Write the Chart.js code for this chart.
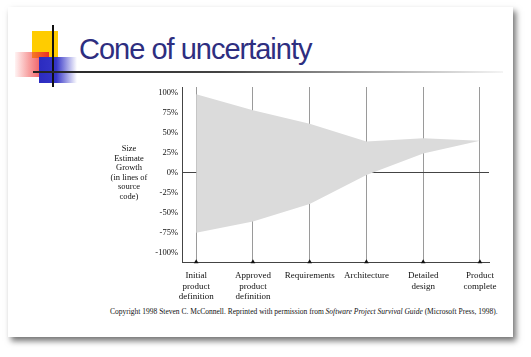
<!DOCTYPE html>
<html>
<head>
<meta charset="utf-8">
<script src="https://cdn.jsdelivr.net/npm/chart.js@4.4.1/dist/chart.umd.min.js"></script>
<style>
  html, body { margin:0; padding:0; background:#ffffff; }
  body { width:531px; height:357px; position:relative; overflow:hidden; font-family:"Liberation Serif", serif; }
  #slide { position:absolute; left:8px; top:7px; width:505px; height:330px; background:#fff;
           box-shadow: 3px 4px 6px rgba(0,0,0,0.55); }
  .sq { position:absolute; }
  #yellow { left:32px; top:31px; width:26px; height:27px; background:#ffcc00; }
  #red { left:15px; top:52px; width:34px; height:25px;
         background: linear-gradient(to left, rgba(235,30,40,0.9), rgba(240,70,70,0.5) 60%, rgba(255,140,140,0.1)); }
  #blue { left:39px; top:57px; width:38px; height:26px;
          background: linear-gradient(to right, #2b2bc0 0%, #3535c8 45%, rgba(60,60,210,0.0) 100%); }
  #vline { left:52px; top:25px; width:1.5px; height:62px; background:#111; }
  #hline { left:33px; top:71px; width:470px; height:1.5px;
           background: linear-gradient(to right, #222 0%, #444 40%, rgba(120,120,120,0.5) 80%, rgba(200,200,200,0.2) 100%); }
  #title { position:absolute; left:79px; top:31px; font-family:"Liberation Sans", Arial, sans-serif; font-size:29px;
           letter-spacing:-1px; color:#2e2e80; white-space:nowrap; line-height:36px; }
  #copy { position:absolute; left:110px; top:307px; font-size:7.5px; color:#111; white-space:nowrap; }
  canvas { position:absolute; left:0; top:0; }
</style>
</head>
<body>
<div id="slide"></div>
<div class="sq" id="yellow"></div>
<div class="sq" id="red"></div>
<div class="sq" id="blue"></div>
<div class="sq" id="vline"></div>
<div class="sq" id="hline"></div>
<div id="title">Cone of uncertainty</div>
<div id="copy">Copyright 1998 Steven C. McConnell. Reprinted with permission from <i>Software Project Survival Guide</i> (Microsoft Press, 1998).</div>
<canvas id="c" width="531" height="357"></canvas>
<script>
// ---- data ----
const categories = [
  ["Initial", "product", "definition"],
  ["Approved", "product", "definition"],
  ["Requirements"],
  ["Architecture"],
  ["Detailed", "design"],
  ["Product", "complete"]
];
const upperBound = [98, 78, 61, 39, 43, 40];
const lowerBound = [-75, -61, -39, -3, 24, 40];
const yTickValues = [100, 75, 50, 25, 0, -25, -50, -75, -100];
const yAxisTitle = ["Size", "Estimate", "Growth", "(in lines of", "source", "code)"];

const Y_MIN = -111.5, Y_MAX = 107;
const X_MIN = -0.25, X_MAX = 5.16;

const yTitlePlugin = {
  id: 'yTitle',
  afterDraw(chart) {
    const ctx = chart.ctx;
    const y0 = chart.scales.y.getPixelForValue(0);
    const x = chart.chartArea.left - 53;
    ctx.save();
    ctx.font = '8.5px "Liberation Serif"';
    ctx.fillStyle = '#111';
    ctx.textAlign = 'center';
    ctx.textBaseline = 'middle';
    const lh = 9.5;
    const start = y0 - lh * (yAxisTitle.length - 1) / 2;
    yAxisTitle.forEach((t, i) => ctx.fillText(t, x, start + i * lh));
    ctx.restore();
  }
};

new Chart(document.getElementById('c'), {
  type: 'line',
  data: {
    datasets: [
      {
        label: 'upper',
        data: upperBound.map((v, i) => ({ x: i, y: v })),
        borderWidth: 0, borderColor: 'rgba(0,0,0,0)', pointRadius: 0, fill: false, tension: 0
      },
      {
        label: 'lower',
        data: lowerBound.map((v, i) => ({ x: i, y: v })),
        borderWidth: 0, borderColor: 'rgba(0,0,0,0)', pointRadius: 0,
        fill: '-1', backgroundColor: '#dbdbdb', tension: 0
      },
      {
        label: 'milestones',
        type: 'scatter',
        data: categories.map((c, i) => ({ x: i, y: Y_MIN })),
        pointStyle: 'triangle', pointRadius: 2.7, backgroundColor: '#111', borderColor: '#111',
        borderWidth: 0, clip: false
      }
    ]
  },
  options: {
    responsive: false,
    animation: false,
    layout: { padding: { top: 87, right: 42, left: 0, bottom: 0 } },
    plugins: {
      legend: { display: false },
      tooltip: { enabled: false }
    },
    scales: {
      x: {
        type: 'linear', min: X_MIN, max: X_MAX, z: 1,
        afterBuildTicks: (s) => { s.ticks = categories.map((c, i) => ({ value: i })); },
        afterFit: (s) => { s.height = 95; },
        ticks: {
          callback: (v) => categories[v],
          font: { family: 'Liberation Serif', size: 9 },
          color: '#111', padding: 8, maxRotation: 0, autoSkip: false
        },
        grid: { color: '#9a9a9a', lineWidth: 1, drawTicks: false },
        border: { color: '#444', width: 1 }
      },
      y: {
        type: 'linear', min: Y_MIN, max: Y_MAX, z: 1,
        afterBuildTicks: (s) => { s.ticks = yTickValues.map(v => ({ value: v })); },
        afterFit: (s) => { s.width = 182; },
        ticks: {
          callback: (v) => v + '%',
          font: { family: 'Liberation Serif', size: 8.5 },
          color: '#111', padding: 4
        },
        grid: {
          color: (ctx) => (ctx.tick && ctx.tick.value === 0) ? '#444' : 'rgba(0,0,0,0)',
          lineWidth: 1, drawTicks: false
        },
        border: { color: '#444', width: 1 }
      }
    }
  },
  plugins: [yTitlePlugin]
});
</script>
</body>
</html>
